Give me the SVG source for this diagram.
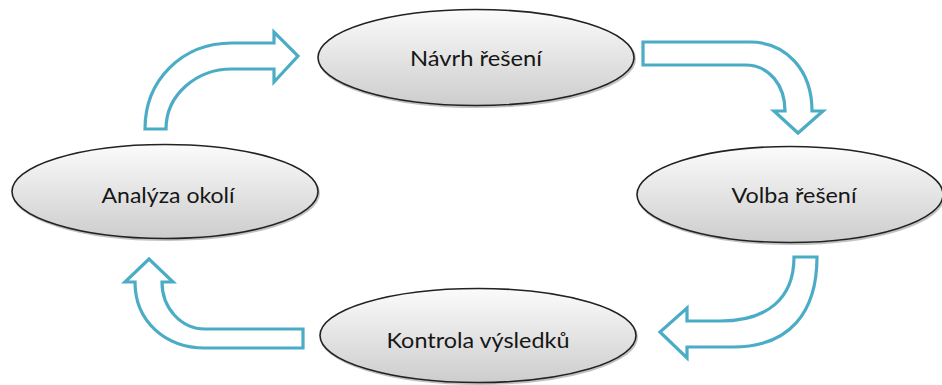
<svg xmlns="http://www.w3.org/2000/svg" width="942" height="385" viewBox="0 0 942 385">
  <defs>
    <linearGradient id="nodeFill" x1="0" y1="0" x2="0" y2="1">
      <stop offset="0" stop-color="#fbfbfb"/>
      <stop offset="1" stop-color="#cdcdcd"/>
    </linearGradient>
    <style>
      .node ellipse.body { fill: url(#nodeFill); stroke: #222222; stroke-width: 1.6; }
      .node ellipse.shade { fill: none; stroke: #9a9a9a; stroke-width: 2; opacity: 0.6; }
      .node text { font-family: Lato, "Noto Sans", "Liberation Sans", sans-serif; font-size: 22px; fill: #161616; text-anchor: middle; }
      .flow path { fill: #ffffff; stroke: #4bacc6; stroke-width: 3.2; stroke-linejoin: miter; }
    </style>
  </defs>
  <rect width="942" height="385" fill="#ffffff"/>

  <!-- cycle arrows -->
  <g id="connectors" class="flow">
    <path d="M145,129 C145,80 182,43 232,43 L274,43 L274,32 L298,56 L274,82 L274,69 L232,69 C196,69 166,95 166,129 Z"/>
    <path d="M643,42 L750,42 C786,42 812,70 812,111 L823,111 L798,133 L774,111 L785,111 C785,86 770,65 745,65 L643,65 Z"/>
    <path d="M794,257 L817,257 C817,312 790,347 733,347 L687,347 L687,358 L660,332 L687,308 L687,321 L720,321 C768,321 794,298 794,257 Z"/>
    <path d="M303,329 L205,329 C181,329 162,308 162,282 L173,282 L149,259 L125,282 L135,282 C135,321 165,348 205,348 L303,348 Z"/>
  </g>

  <g id="node-navrh" class="node">
    <ellipse class="shade" cx="477" cy="59" rx="158" ry="48"/>
    <ellipse class="body" cx="476" cy="57.5" rx="158" ry="48"/>
    <text x="476" y="66" textLength="132" lengthAdjust="spacingAndGlyphs">Návrh řešení</text>
  </g>

  <g id="node-volba" class="node">
    <ellipse class="shade" cx="791" cy="196" rx="153" ry="48"/>
    <ellipse class="body" cx="790" cy="194.5" rx="153" ry="48"/>
    <text x="794" y="203" textLength="125" lengthAdjust="spacingAndGlyphs">Volba řešení</text>
  </g>

  <g id="node-kontrola" class="node">
    <ellipse class="shade" cx="479" cy="337" rx="158" ry="47"/>
    <ellipse class="body" cx="478" cy="335.5" rx="158" ry="47"/>
    <text x="478" y="348" textLength="183" lengthAdjust="spacingAndGlyphs">Kontrola výsledků</text>
  </g>

  <g id="node-analyza" class="node">
    <ellipse class="shade" cx="166" cy="193" rx="153" ry="47"/>
    <ellipse class="body" cx="165" cy="191.5" rx="153" ry="47"/>
    <text x="168" y="203" textLength="133" lengthAdjust="spacingAndGlyphs">Analýza okolí</text>
  </g>
</svg>
